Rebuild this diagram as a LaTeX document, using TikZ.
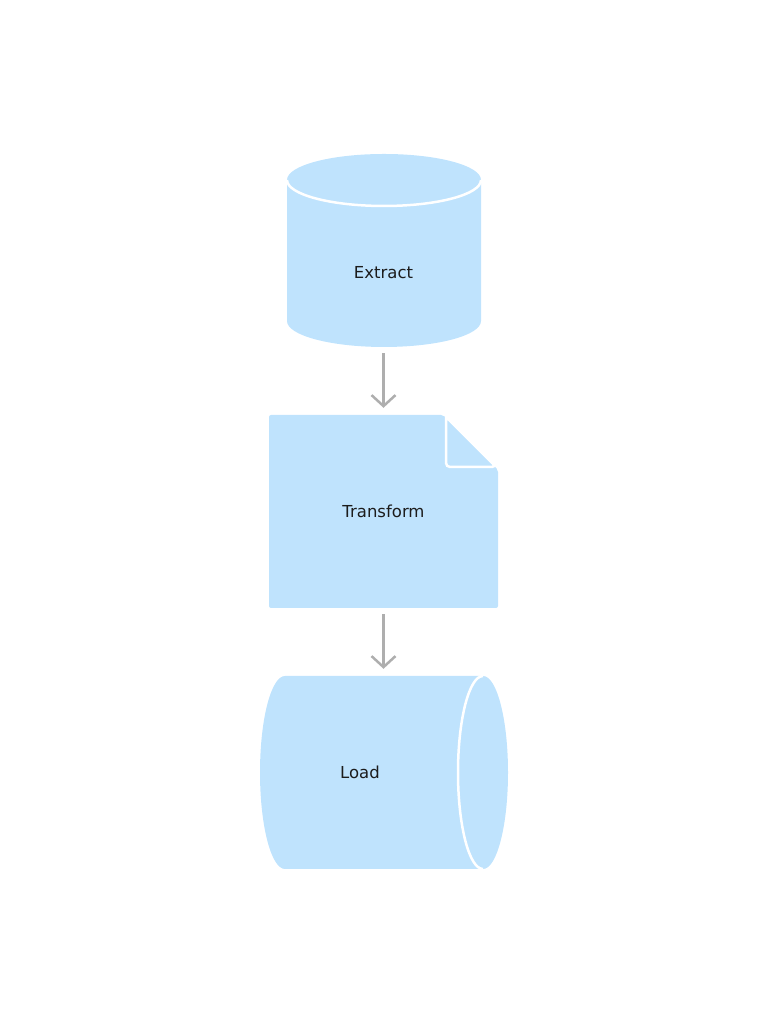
\documentclass[tikz,border=0pt]{standalone}
\usepackage{fontspec}
\setmainfont{DejaVu Sans}
\usepackage{tikz}
\usetikzlibrary{arrows.meta}
\definecolor{boxblue}{RGB}{191,227,253}
\definecolor{flowgray}{RGB}{174,174,174}
\definecolor{inkgray}{RGB}{28,28,28}

\begin{document}
\begin{tikzpicture}[x=1pt,y=1pt,
	lbl/.style={inner sep=0pt, text=inkgray, font=\fontsize{16.5}{20}\selectfont},
	rim/.style={draw=white, line width=2.5pt},
	flow/.style={draw=flowgray, line width=2.5pt, -{Straight Barb[length=11pt,width=24pt]}, shorten <=6pt, shorten >=7pt}]
	\useasboundingbox (0,0) rectangle (768,1024);
	% extract
	\fill[boxblue] (287,844) -- (287,703) arc (180:360:97 and 26) -- (481,844) arc (0:180:97 and 26) -- cycle;
	\draw[rim] (287,844) arc (180:360:97 and 26);
	\node[lbl, minimum width=194pt, minimum height=148pt] (extract) at (383.5,751) {Extract};
	% transform
	\fill[boxblue, rounded corners=2pt] (269,609) -- (443,609) -- (498,554) -- (498,416) -- (269,416) -- cycle;
	\filldraw[fill=boxblue, rim] (446,607) [rounded corners=4pt] -- (446,557) -- (496,557) [sharp corners] -- cycle;
	\node[lbl, minimum width=229pt, minimum height=193pt] (transform) at (383.5,512.5) {Transform};
	% load
	\fill[boxblue] (285,348) -- (483,348) arc (90:-90:25 and 96.5) -- (285,155) arc (270:90:25 and 96.5) -- cycle;
	\draw[rim] (483,348) arc (90:270:25 and 96.5);
	\node[lbl, minimum width=196pt, minimum height=193pt] (load) at (360,251.5) {Load};
	% arrows
	\draw[flow] (extract.south) -- (transform.north);
	\draw[flow] (transform.south) -- (transform.south |- load.north);
\end{tikzpicture}
\end{document}
